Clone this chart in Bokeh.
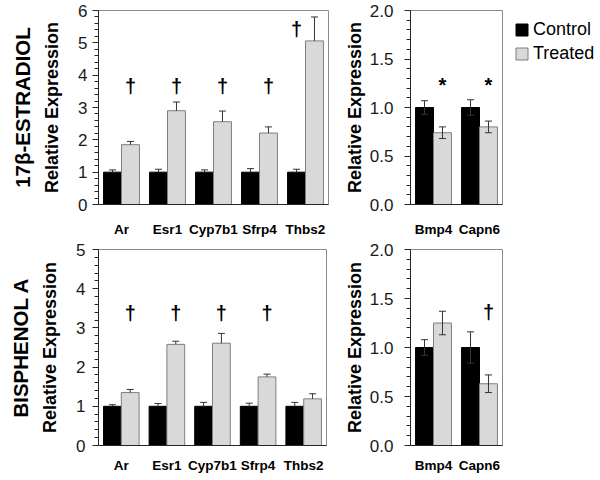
from bokeh.plotting import figure
from bokeh.models import (ColumnDataSource, FactorRange, Range1d, Title, Legend, LegendItem,
                          SingleIntervalTicker, NumeralTickFormatter)
from bokeh.transform import dodge
from bokeh.layouts import row, column
from bokeh.embed import file_html
from bokeh.resources import INLINE
from bokeh.core.properties import value

FONT = "Liberation Sans"

# ---------------- data ----------------
genes_main = ["Ar", "Esr1", "Cyp7b1", "Sfrp4", "Thbs2"]
genes_side = ["Bmp4", "Capn6"]

# 17beta-estradiol
e2_main_control = [1.0, 1.0, 1.0, 1.0, 1.0]
e2_main_control_err = [0.07, 0.09, 0.07, 0.11, 0.09]
e2_main_treated = [1.85, 2.90, 2.56, 2.21, 5.06]
e2_main_treated_err = [0.10, 0.27, 0.33, 0.19, 0.74]
e2_main_marks_treated = ["Ar", "Esr1", "Cyp7b1", "Sfrp4"]
e2_main_marks_treated_y = [3.66, 3.66, 3.66, 3.66]
e2_main_marks_control = ["Thbs2"]
e2_main_marks_control_y = [5.42]

e2_side_control = [1.0, 1.0]
e2_side_control_err = [0.07, 0.08]
e2_side_treated = [0.74, 0.80]
e2_side_treated_err = [0.06, 0.06]
e2_side_marks_treated = ["Bmp4", "Capn6"]
e2_side_marks_treated_y = [1.23, 1.23]

# bisphenol A
bpa_main_control = [1.0, 1.0, 1.0, 1.0, 1.0]
bpa_main_control_err = [0.04, 0.07, 0.10, 0.08, 0.10]
bpa_main_treated = [1.35, 2.58, 2.61, 1.75, 1.19]
bpa_main_treated_err = [0.08, 0.08, 0.25, 0.07, 0.13]
bpa_main_marks_treated = ["Ar", "Esr1", "Cyp7b1", "Sfrp4"]
bpa_main_marks_treated_y = [3.37, 3.37, 3.37, 3.37]

bpa_side_control = [1.0, 1.0]
bpa_side_control_err = [0.08, 0.16]
bpa_side_treated = [1.25, 0.63]
bpa_side_treated_err = [0.12, 0.09]
bpa_side_marks_treated = ["Capn6"]
bpa_side_marks_treated_y = [1.36]

series_names = ["Control", "Treated"]

# ---------------- style ----------------
OFF = 0.195
BW = 0.39
AX = "#262626"
ERR = "#333333"
CTRL_FILL = "#000000"
TRT_FILL = "#d9d9d9"
TRT_LINE = "#7f7f7f"


def panel(genes, ctrl, ctrl_err, trt, trt_err, ymax, step, fmt, two_sided,
          marks_t, marks_t_y, mark_char, marks_c=None, marks_c_y=None,
          fw=230, fh=196, bl=89, br=11, bt=6, bb=34, label_standoff=5,
          axis_label_standoff=13, xlab_standoff=8):
    p = figure(x_range=FactorRange(factors=genes), y_range=Range1d(0, ymax),
               frame_width=fw, frame_height=fh,
               min_border_left=bl, min_border_right=br, min_border_top=bt, min_border_bottom=bb,
               output_backend="svg", toolbar_location=None,
               background_fill_color="white", border_fill_color="white")
    p.xgrid.visible = False
    p.ygrid.visible = False
    p.outline_line_color = "#8c8c8c"
    p.outline_line_width = 1

    c_hi = [v + e for v, e in zip(ctrl, ctrl_err)]
    t_hi = [v + e for v, e in zip(trt, trt_err)]
    if two_sided:
        c_lo = [v - e for v, e in zip(ctrl, ctrl_err)]
        t_lo = [v - e for v, e in zip(trt, trt_err)]
    else:
        c_lo = list(ctrl)
        t_lo = list(trt)
    src = ColumnDataSource(dict(gene=genes, ctrl=ctrl, trt=trt,
                                c_hi=c_hi, c_lo=c_lo, t_hi=t_hi, t_lo=t_lo))
    xc = dodge("gene", -OFF, range=p.x_range)
    xt = dodge("gene", OFF, range=p.x_range)
    rc = p.vbar(x=xc, top="ctrl", width=BW, source=src,
                fill_color=CTRL_FILL, line_color="#000000", line_width=1)
    rt = p.vbar(x=xt, top="trt", width=BW, source=src,
                fill_color=TRT_FILL, line_color=TRT_LINE, line_width=1)

    for x, lo, hi in ((xc, "c_lo", "c_hi"), (xt, "t_lo", "t_hi")):
        p.segment(x0=x, y0=lo, x1=x, y1=hi, source=src, line_color=ERR, line_width=1)
        p.scatter(x=x, y=hi, source=src, marker="dash", size=7, line_color=ERR, line_width=1)
        if two_sided:
            p.scatter(x=x, y=lo, source=src, marker="dash", size=7, line_color=ERR, line_width=1)

    msrc = ColumnDataSource(dict(gene=marks_t, y=marks_t_y, m=[mark_char] * len(marks_t)))
    p.text(x=dodge("gene", OFF, range=p.x_range), y="y", text="m", source=msrc,
           text_font=value(FONT), text_font_style="bold", text_font_size=value("20px"),
           text_align="center", text_baseline="middle", text_color="#000000")
    if marks_c:
        msrc2 = ColumnDataSource(dict(gene=marks_c, y=marks_c_y, m=[mark_char] * len(marks_c)))
        p.text(x=dodge("gene", -OFF, range=p.x_range), y="y", text="m", source=msrc2,
               text_font=value(FONT), text_font_style="bold", text_font_size=value("20px"),
               text_align="center", text_baseline="middle", text_color="#000000")

    # axes
    p.xaxis.axis_line_color = AX
    p.xaxis.major_tick_line_color = None
    p.xaxis.minor_tick_line_color = None
    p.xaxis.major_label_text_font = FONT
    p.xaxis.major_label_text_font_style = "bold"
    p.xaxis.major_label_text_font_size = "13.5px"
    p.xaxis.major_label_text_color = "#000000"
    p.xaxis.major_label_standoff = xlab_standoff

    p.yaxis.ticker = SingleIntervalTicker(interval=step, num_minor_ticks=5)
    if fmt:
        p.yaxis.formatter = NumeralTickFormatter(format=fmt)
    p.yaxis.axis_line_color = AX
    p.yaxis.major_tick_line_color = AX
    p.yaxis.minor_tick_line_color = AX
    p.yaxis.major_tick_in = 0
    p.yaxis.major_tick_out = 6
    p.yaxis.minor_tick_in = 0
    p.yaxis.minor_tick_out = 4
    p.yaxis.major_label_text_font = FONT
    p.yaxis.major_label_text_font_size = "17px"
    p.yaxis.major_label_text_color = "#1a1a1a"
    p.yaxis.major_label_standoff = label_standoff
    p.yaxis.axis_label = "Relative Expression"
    p.yaxis.axis_label_text_font = FONT
    p.yaxis.axis_label_text_font_size = "18px"
    p.yaxis.axis_label_text_font_style = "bold"
    p.yaxis.axis_label_text_color = "#000000"
    p.yaxis.axis_label_standoff = axis_label_standoff
    return p, rc, rt


# top-left
pA, _, _ = panel(genes_main, e2_main_control, e2_main_control_err, e2_main_treated, e2_main_treated_err,
                 6, 1, None, False, e2_main_marks_treated, e2_main_marks_treated_y, "†",
                 e2_main_marks_control, e2_main_marks_control_y,
                 fw=230, fh=194, bl=89, br=11, bt=10, bb=32, label_standoff=5, axis_label_standoff=13,
                 xlab_standoff=11)
pA.add_layout(Title(text="17β-ESTRADIOL", text_font=FONT, text_font_size="20.5px",
                    text_font_style="bold", text_color="#000000", align="center", standoff=12), "left")

# top-right
pB, rcB, rtB = panel(genes_side, e2_side_control, e2_side_control_err, e2_side_treated, e2_side_treated_err,
                     2, 0.5, "0.0", True, e2_side_marks_treated, e2_side_marks_treated_y, "*",
                     fw=92, fh=194, bl=68, br=94, bt=10, bb=32, label_standoff=11, axis_label_standoff=2,
                     xlab_standoff=11)
legend = Legend(items=[LegendItem(label=series_names[0], renderers=[rcB]),
                       LegendItem(label=series_names[1], renderers=[rtB])],
                location=(12, 140), margin=0, padding=0, spacing=3,
                glyph_width=15, glyph_height=15, label_height=15, label_standoff=4,
                label_text_font=FONT, label_text_font_size="18px", label_text_color="#000000",
                border_line_color=None, background_fill_alpha=0)
pB.add_layout(legend, "right")

# bottom-left
pC, _, _ = panel(genes_main, bpa_main_control, bpa_main_control_err, bpa_main_treated, bpa_main_treated_err,
                 5, 1, None, False, bpa_main_marks_treated, bpa_main_marks_treated_y, "†",
                 fw=228, fh=196, bl=87, br=15, bt=10, bb=22, label_standoff=7, axis_label_standoff=13,
                 xlab_standoff=6)
pC.add_layout(Title(text="BISPHENOL A", text_font=FONT, text_font_size="20.5px",
                    text_font_style="bold", text_color="#000000", align="center", standoff=12), "left")

# bottom-right
pD, _, _ = panel(genes_side, bpa_side_control, bpa_side_control_err, bpa_side_treated, bpa_side_treated_err,
                 2, 0.5, "0.0", True, bpa_side_marks_treated, bpa_side_marks_treated_y, "†",
                 fw=92, fh=196, bl=68, br=94, bt=10, bb=22, label_standoff=11, axis_label_standoff=2,
                 xlab_standoff=6)

layout = row(column(pA, pC, spacing=0), column(pB, pD, spacing=0), spacing=0)

open("out.html", "w").write(file_html(layout, INLINE))
